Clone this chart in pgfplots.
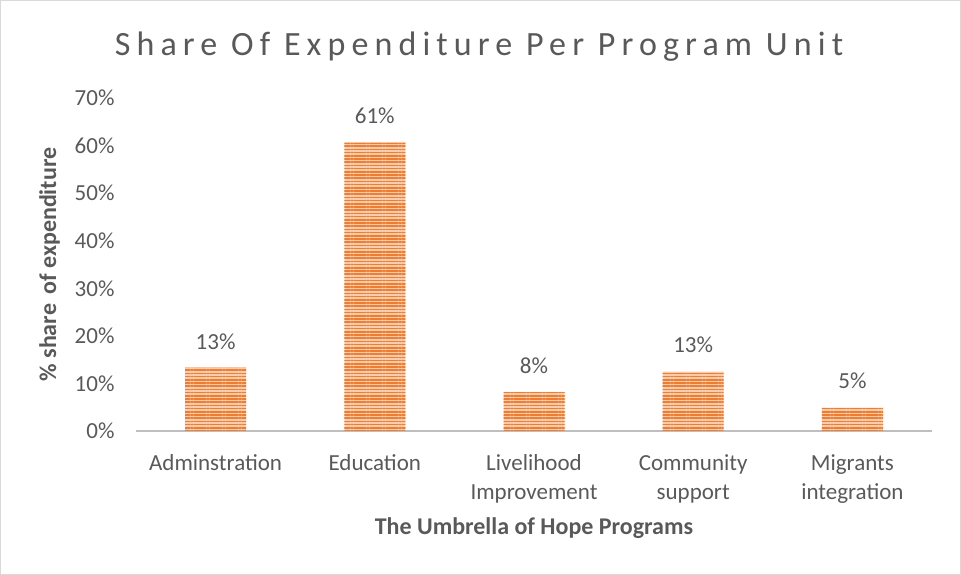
\documentclass[border=0pt]{standalone}
\usepackage{pgfplots}
\pgfplotsset{compat=1.18}
\usepackage{fontspec}
\setmainfont{Carlito}
\newfontfamily\titlefont[LetterSpace=18]{Carlito}
\usetikzlibrary{patterns.meta}
\definecolor{barorange}{HTML}{ED7D31}
\definecolor{barlight}{HTML}{F8CBAD}
\definecolor{txtgray}{HTML}{595959}
\definecolor{axgray}{HTML}{BFBFBF}
\begin{document}
\begin{tikzpicture}
\useasboundingbox (0,0) rectangle (961pt,575pt);
\draw[black!15, line width=1pt] (0.5pt,0.5pt) rectangle (960.5pt,574.5pt);
\begin{axis}[
  at={(136pt,144pt)}, anchor=south west,
  scale only axis, width=796pt, height=333pt,
  xmin=-0.5, xmax=4.5, ymin=0, ymax=70,
  ytick={0,10,...,70},
  yticklabel={\pgfmathprintnumber{\tick}\%},
  /pgf/number format/assume math mode=true,
  xtick={0,1,2,3,4},
  xticklabels={Adminstration,Education,Livelihood\\Improvement,Community\\support,Migrants\\integration},
  xticklabel style={align=center, text=txtgray, font=\fontsize{23}{29}\selectfont, yshift=-20pt},
  yticklabel style={text=txtgray, font=\fontsize{23}{26}\selectfont, xshift=-18pt},
  axis x line*=bottom, axis y line*=left,
  x axis line style={axgray, line width=1.5pt, -},
  y axis line style={draw=none},
  major tick length=0pt,
  tick style={draw=none},
  ylabel={\textbf{\% share\, of expenditure}},
  ylabel style={text=txtgray, font=\fontsize{24}{28}\selectfont, yshift=-3pt},
  ylabel shift=11pt,
  every axis x label/.style={at={(axis description cs:0.5,0)}, anchor=center, yshift=-97pt},
  xlabel={\textbf{The Umbrella of Hope Programs}},
  xlabel style={text=txtgray, font=\fontsize{24}{28}\selectfont},
  ybar, bar width=61pt,
  nodes near coords={\pgfmathprintnumber[fixed,precision=0]{\pgfplotspointmeta}\%},
  nodes near coords style={text=txtgray, font=\fontsize{23}{26}\selectfont, yshift=15pt},
  point meta=explicit,
  clip=false,
]
\addplot[draw=none, fill=barlight, postaction={pattern={Lines[angle=0, distance=3.2pt, line width=1.6pt]}, pattern color=barorange}]
  coordinates {(0,13.3)[13] (1,60.6)[61] (2,8.2)[8] (3,12.5)[13] (4,4.9)[5]};
\end{axis}
\node[text=txtgray, font=\titlefont\fontsize{34}{40}\selectfont] at (479pt,528pt) {Share Of Expenditure Per Program Unit};
\end{tikzpicture}
\end{document}
